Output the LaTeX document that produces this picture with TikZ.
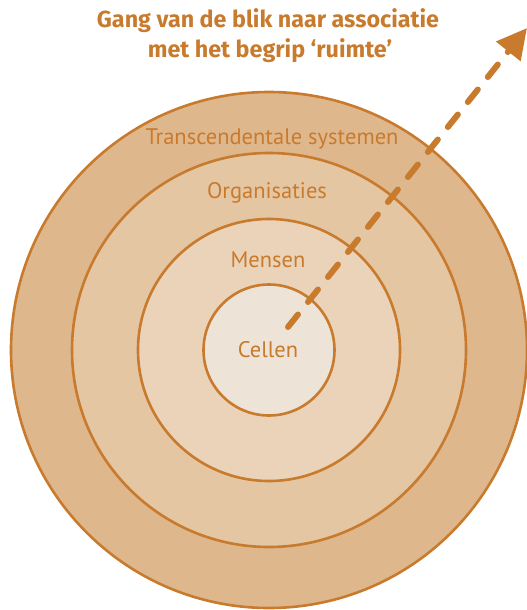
\documentclass[tikz,border=0pt]{standalone}
\usepackage{fontspec}
\setmainfont{PT Sans}
\newfontfamily\titlefont{Fira Sans}
\usetikzlibrary{arrows.meta}
\definecolor{ochre}{HTML}{C87A2D}
\definecolor{ringA}{HTML}{DFB78D}
\definecolor{ringB}{HTML}{E4C6A3}
\definecolor{ringC}{HTML}{EAD3B9}
\definecolor{ringD}{HTML}{EDE3D6}
\begin{document}
\begin{tikzpicture}[x=1pt,y=-1pt,
  ring/.style={circle,draw=ochre,line width=2.6pt,inner sep=0pt,outer sep=0pt,minimum size=#1},
  ringlabel/.style={text=ochre,font=\fontsize{22.5}{26}\selectfont,inner sep=0pt,anchor=base},
  heading/.style={text=ochre,font=\titlefont\bfseries\fontsize{23.3}{29}\selectfont,inner sep=0pt,anchor=base,align=center},
  gaze/.style={draw=ochre,line width=6pt,line cap=round,dash pattern=on 16pt off 16pt,
    -{Triangle[length=30pt,width=30pt,fill=ochre]}}]
\useasboundingbox (0,0) rectangle (527,610);

% concentric rings, outermost first
\node[ring=516pt,fill=ringA] (systems) at (269,350) {};
\node[ring=394pt,fill=ringB] (organisations) at (269,350) {};
\node[ring=262pt,fill=ringC] (people) at (269,350) {};
\node[ring=131pt,fill=ringD] (cells) at (269,350) {};

% ring labels
\node[ringlabel] (lsystems) at (272,144) {Transcendentale systemen};
\node[ringlabel] (lorganisations) at (267,198) {Organisaties};
\node[ringlabel] (lpeople) at (268,267) {Mensen};
\node[ringlabel] (lcells) at (268,357) {Cellen};

% heading
\node[heading] (title1) at (268,28) {Gang van de blik naar associatie};
\node[heading] (title2) at (270,57) {met het begrip ‘ruimte’};

% outward gaze
\coordinate (gazefrom) at (288,327);
\coordinate (gazeto) at (527,28);
\draw[gaze] (gazefrom) -- (gazeto);
\end{tikzpicture}
\end{document}
